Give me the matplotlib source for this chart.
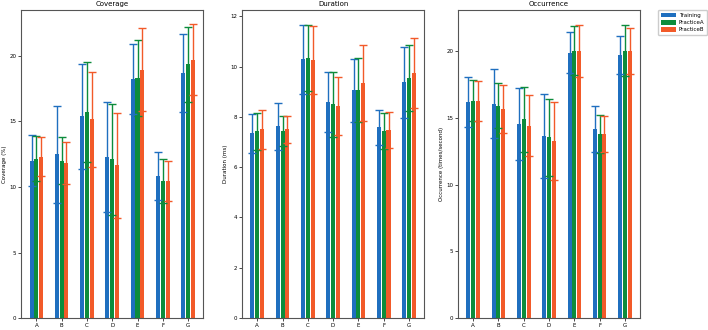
import matplotlib
matplotlib.use("Agg")
import matplotlib.pyplot as plt
import numpy as np

categories = ["A", "B", "C", "D", "E", "F", "G"]
groups = ["Training", "PracticeA", "PracticeB"]

# Coverage (%) means / sd
cov_training = [12.0, 12.5, 15.4, 12.3, 18.25, 10.85, 18.7]
cov_practiceA = [12.15, 12.0, 15.7, 12.1, 18.3, 10.45, 19.35]
cov_practiceB = [12.3, 11.85, 15.15, 11.65, 18.95, 10.45, 19.7]
cov_training_sd = [1.95, 3.7, 4.0, 4.2, 2.65, 1.85, 2.95]
cov_practiceA_sd = [1.7, 1.8, 3.8, 4.2, 2.9, 1.65, 2.85]
cov_practiceB_sd = [1.5, 1.6, 3.65, 4.0, 3.15, 1.5, 2.7]

# Duration (ms)
dur_training = [7.35, 7.62, 10.28, 8.6, 9.05, 7.58, 9.37]
dur_practiceA = [7.42, 7.45, 10.33, 8.5, 9.05, 7.45, 9.55]
dur_practiceB = [7.5, 7.5, 10.25, 8.42, 9.35, 7.48, 9.75]
dur_training_sd = [0.78, 0.93, 1.37, 1.19, 1.24, 0.7, 1.4]
dur_practiceA_sd = [0.73, 0.6, 1.3, 1.3, 1.27, 0.71, 1.3]
dur_practiceB_sd = [0.79, 0.54, 1.35, 1.15, 1.5, 0.72, 1.4]

# Occurrence (times/second)
occ_training = [16.2, 16.08, 14.55, 13.68, 19.9, 14.18, 19.73]
occ_practiceA = [16.3, 15.93, 14.9, 13.55, 20.03, 13.78, 20.05]
occ_practiceB = [16.3, 15.68, 14.43, 13.28, 20.03, 13.83, 20.05]
occ_training_sd = [1.85, 2.57, 2.67, 3.15, 1.53, 1.72, 1.45]
occ_practiceA_sd = [1.55, 1.68, 2.45, 2.9, 1.83, 1.42, 1.92]
occ_practiceB_sd = [1.5, 1.8, 2.28, 2.9, 1.97, 1.35, 1.72]

colors = ["#1f6fbf", "#0d8c3c", "#f25a29"]

panels = [
    ("Coverage", "Coverage (%)",
     [cov_training, cov_practiceA, cov_practiceB],
     [cov_training_sd, cov_practiceA_sd, cov_practiceB_sd], 23.5),
    ("Duration", "Duration (ms)",
     [dur_training, dur_practiceA, dur_practiceB],
     [dur_training_sd, dur_practiceA_sd, dur_practiceB_sd], 12.25),
    ("Occurrence", "Occurrence (times/second)",
     [occ_training, occ_practiceA, occ_practiceB],
     [occ_training_sd, occ_practiceA_sd, occ_practiceB_sd], 23.1),
]

fig = plt.figure(figsize=(7.08, 3.30), dpi=100)
lefts = [0.030, 0.342, 0.647]
w = 0.257
x = np.arange(len(categories))
width = 0.16
offsets = [-0.19, 0.0, 0.19]

handles = []
for i, (title, ylabel, means, sds, ytop) in enumerate(panels):
    ax = fig.add_axes([lefts[i], 0.036, w, 0.934])
    for j in range(3):
        b = ax.bar(x + offsets[j], means[j], width, yerr=sds[j], color=colors[j],
                   label=groups[j], capsize=3.2,
                   error_kw=dict(ecolor=colors[j], elinewidth=1.0, capthick=1.0))
        if i == 0:
            handles.append(b)
    ax.set_title(title, fontsize=5, pad=2.5)
    ax.set_ylabel(ylabel, fontsize=4, labelpad=1.5)
    ax.set_xticks(x)
    ax.set_xticklabels(categories)
    ax.tick_params(labelsize=4, length=2, width=0.5, pad=1.5)
    ax.set_ylim(0, ytop)
    for s in ax.spines.values():
        s.set_color("#555555")
        s.set_linewidth(0.8)

fig.legend(handles, groups, loc="upper left", bbox_to_anchor=(0.926, 0.978),
           fontsize=4, handlelength=2.6, handleheight=0.9, borderpad=0.5,
           labelspacing=0.35, handletextpad=0.6, framealpha=1, edgecolor="#cccccc")

fig.savefig("out.png", dpi=100)
